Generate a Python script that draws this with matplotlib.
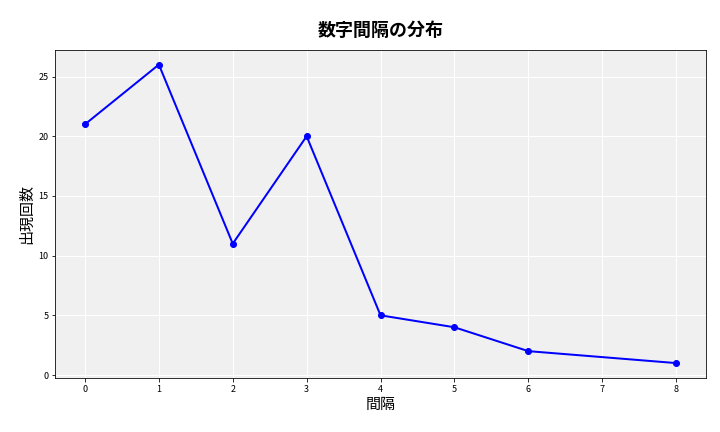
import matplotlib.pyplot as plt

plt.rcParams["font.family"] = ["Noto Sans CJK JP", "DejaVu Sans"]

# 間隔ごとの出現回数
gaps = [0, 1, 2, 3, 4, 5, 6, 8]
counts = [21, 26, 11, 20, 5, 4, 2, 1]

fig, ax = plt.subplots(figsize=(10, 6), dpi=72)
ax.set_facecolor("#f0f0f0")
ax.grid(True, color="white", linewidth=1)
ax.set_axisbelow(True)

ax.plot(gaps, counts, color="blue", marker="o", linewidth=2, markersize=6)

ax.set_title("数字間隔の分布", fontsize=18, fontweight="bold", pad=14)
ax.set_xlabel("間隔", fontsize=15)
ax.set_ylabel("出現回数", fontsize=15)
ax.set_xticks(range(0, 9))
ax.tick_params(labelsize=9)

fig.subplots_adjust(left=0.077, right=0.98, top=0.885, bottom=0.125)
fig.savefig("out.png")
